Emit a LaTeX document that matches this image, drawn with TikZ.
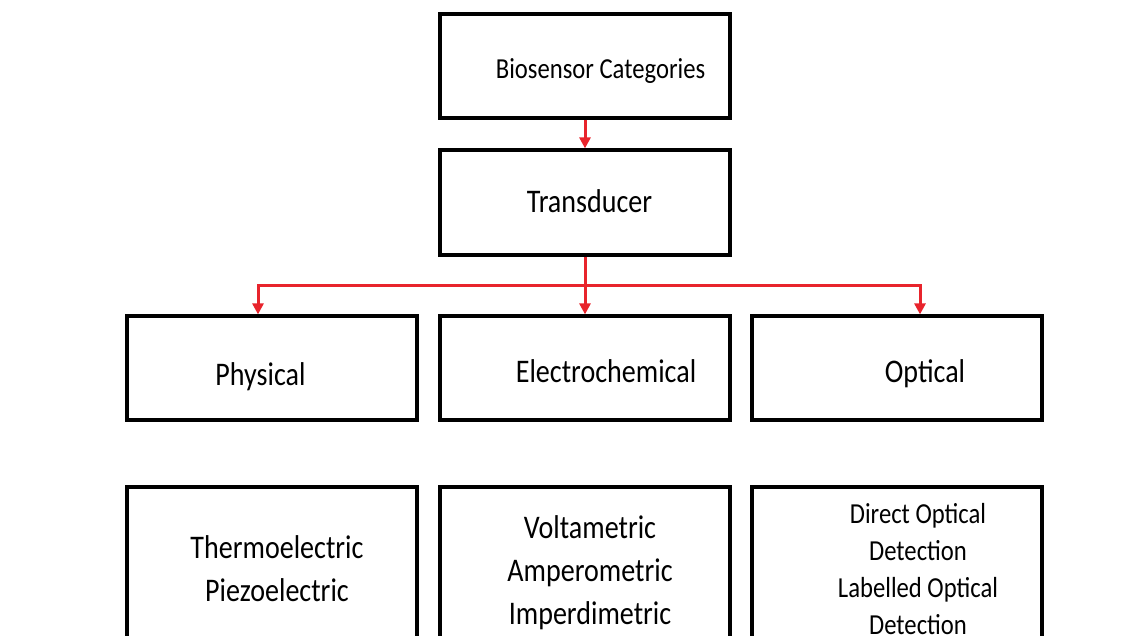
\documentclass[tikz,border=0pt]{standalone}
\usepackage{fontspec}
\setmainfont{Carlito}[FakeStretch=0.85]
\usetikzlibrary{arrows.meta,calc}
\definecolor{arrred}{RGB}{232,36,44}
\begin{document}
\begin{tikzpicture}[x=1pt,y=-1pt,
  box/.style={draw=black,line width=3.2pt,minimum width=290pt,minimum height=104pt,inner sep=0pt,fill=white},
  big/.style={font=\fontsize{33}{43}\selectfont,align=center,inner sep=0pt},
  small/.style={font=\fontsize{29}{37}\selectfont,align=center,inner sep=0pt},
  arr/.style={draw=arrred,line width=3pt,-{Triangle[length=11pt,width=11pt]}}]
\useasboundingbox (0,0) rectangle (1148,636);
\clip (0,0) rectangle (1148,636);
% boxes
\node[box] (cat) at (585,66) {};
\node[box,minimum height=105pt] (trans) at (585,202.5) {};
\node[box] (phys) at (272,368) {};
\node[box] (elec) at (585,368) {};
\node[box] (opt) at (897,368) {};
\node[box,minimum height=170pt] (physb) at (272,572) {};
\node[box,minimum height=170pt] (elecb) at (585,572) {};
\node[box,minimum height=170pt] (optb) at (897,572) {};
% texts
\node[small,anchor=base] (tcat) at (600.5,79) {Biosensor Categories};
\node[big,anchor=base] (ttrans) at (589.5,212.7) {Transducer};
\node[big,anchor=base] (tphys) at (260.5,385) {Physical};
\node[big,anchor=base] (telec) at (606,382) {Electrochemical};
\node[big,anchor=base] (topt) at (925,382) {Optical};
\node[big] (tphysb) at (277,569) {Thermoelectric\\Piezoelectric};
\node[big] (telecb) at (590,572.5) {Voltametric\\Amperometric\\Imperdimetric};
\node[small] (toptb) at (918,569) {Direct Optical\\Detection\\Labelled Optical\\Detection};
% connectors
\draw[arr] (cat.south) -- (trans.north);
\coordinate (bus) at ($(trans.south)+(0,29)$);
\draw[draw=arrred,line width=3pt] (trans.south) -- (bus);
\draw[arr] (bus) -| ($(phys.north)+(-14,0)$);
\draw[arr] (bus) -- (elec.north);
\draw[arr] (bus) -| ($(opt.north)+(23,0)$);
\end{tikzpicture}
\end{document}
